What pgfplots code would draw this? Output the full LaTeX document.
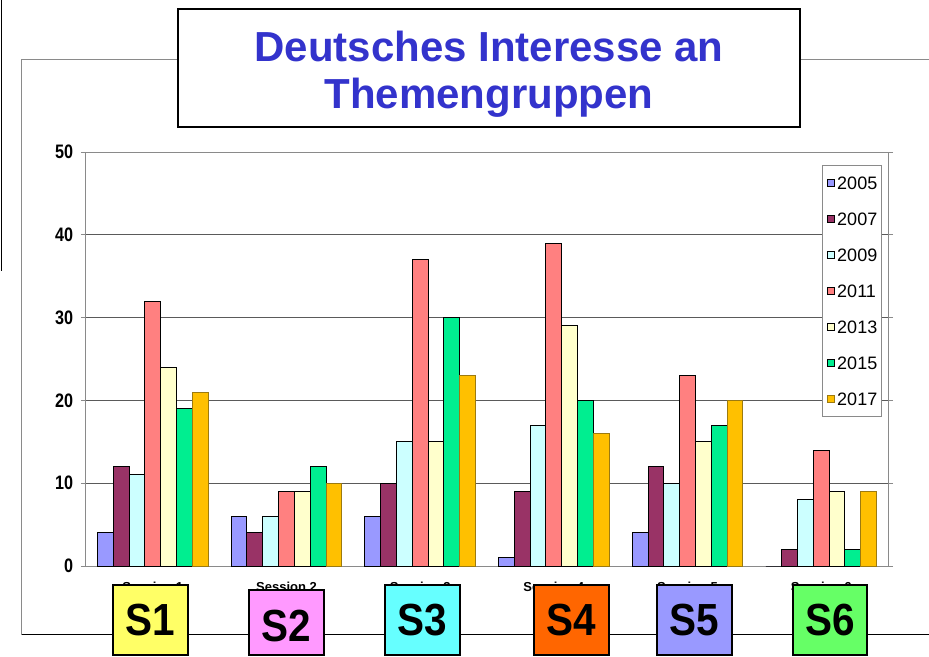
\documentclass[border=0pt]{standalone}
\usepackage{fontspec}
\setmainfont{Liberation Sans}
\usepackage{pgfplots}
\pgfplotsset{compat=1.18}
\usepackage{pgfplotstable}
\usetikzlibrary{calc}

\definecolor{c05}{HTML}{9999FF}
\definecolor{c07}{HTML}{993366}
\definecolor{c09}{HTML}{CCFFFF}
\definecolor{c11}{HTML}{FF8080}
\definecolor{c13}{HTML}{FFFFCC}
\definecolor{c15}{HTML}{00EE90}
\definecolor{c17}{HTML}{FFC000}
\definecolor{c17b}{HTML}{9C7A10}
\definecolor{titleblue}{HTML}{3333CC}
\definecolor{gridc}{HTML}{5A5A5A}
\definecolor{framegray}{HTML}{8A8A8A}
\definecolor{s1}{HTML}{FFFF66}
\definecolor{s2}{HTML}{FF99FF}
\definecolor{s3}{HTML}{66FFFF}
\definecolor{s4}{HTML}{FF6600}
\definecolor{s5}{HTML}{9999FF}
\definecolor{s6}{HTML}{66FF66}

\pgfplotstableread{
x y05 y07 y09 y11 y13 y15 y17
0 4 12 11 32 24 19 21
1 6 4 6 9 9 12 10
2 6 10 15 37 15 30 23
3 1 9 17 39 29 20 16
4 4 12 10 23 15 17 20
5 0 2 8 14 9 2 9
}\data

\begin{document}
\begin{tikzpicture}[x=1pt,y=1pt]
\begin{axis}[
  name=ax,
  scale only axis, width=802pt, height=414pt,
  xmin=-0.5, xmax=5.5, ymin=0, ymax=50,
  ybar=0pt, bar width=15.8pt,
  axis line style={framegray, line width=1pt},
  ymajorgrids, grid style={gridc, line width=0.9pt},
  ytick={0,10,20,30,40,50},
  yticklabels={0,10,20,30,40,50},
  yticklabel style={font=\bfseries\fontsize{19.5}{20}\selectfont, xscale=0.83, anchor=east, xshift=-6pt},
  xtick={0,1,2,3,4,5},
  xticklabels={Session 1,Session 2,Session 3,Session 4,Session 5,Session 6},
  xticklabel style={font=\bfseries\fontsize{13}{14}\selectfont, anchor=north, yshift=-8pt},
  x tick style={draw=none},
  extra x ticks={-0.5,0.5,1.5,2.5,3.5,4.5,5.5},
  extra x tick labels={},
  extra x tick style={grid=none, tick style={draw=framegray, line width=1pt}},
  tick align=outside, major tick length=5pt,
  y tick style={draw=framegray, line width=1pt},
  legend style={at={(0.918,0.969)}, anchor=north west,
    draw=framegray, line width=0.8pt, fill=white,
    font=\fontsize{18}{18}\selectfont,
    inner xsep=4pt, inner ysep=11pt,
    row sep=23pt,
    nodes={inner sep=0pt, text height=13pt, text depth=0pt},
    /tikz/every odd column/.append style={column sep=3pt}},
  legend cell align=left,
  legend image code/.code={\draw[#1,/tikz/.cd,line width=0.6pt] (0pt,-3.5pt) rectangle (7pt,3.5pt);},
]
\addplot[fill=c05, draw=black, line width=1pt] table[x=x,y=y05] {\data};
\addplot[fill=c07, draw=black, line width=1pt] table[x=x,y=y07] {\data};
\addplot[fill=c09, draw=black, line width=1pt] table[x=x,y=y09] {\data};
\addplot[fill=c11, draw=black, line width=1pt] table[x=x,y=y11] {\data};
\addplot[fill=c13, draw=black, line width=1pt] table[x=x,y=y13] {\data};
\addplot[fill=c15, draw=black, line width=1pt] table[x=x,y=y15] {\data};
\addplot[fill=c17, draw=c17b, line width=1pt] table[x=x,y=y17] {\data};
\legend{2005,2007,2009,2011,2013,2015,2017}
\coordinate (sw) at (rel axis cs:0,0);
\end{axis}

\begin{scope}[shift={($(sw)-(86,-566)$)}]
% outer frames
\draw[black,line width=1.5pt] (1.5,0) -- (1.5,-271);
\draw[framegray,line width=1pt] (22,-634.5) -- (22,-60) -- (180,-60);
\draw[framegray,line width=1pt] (798,-60) -- (929,-60);
\draw[black,line width=1.5pt] (22,-634.5) -- (929,-634.5);

% title box
\draw[black,line width=1.5pt,fill=white] (178,-9) rectangle (800,-127);
\node[anchor=base,font=\bfseries\fontsize{42}{47}\selectfont,text=titleblue,inner sep=0pt] at (489,-62) {Deutsches Interesse an};
\node[anchor=base,font=\bfseries\fontsize{42}{47}\selectfont,text=titleblue,inner sep=0pt] at (489,-109) {Themengruppen};

% session boxes
\foreach \xa/\xb/\ya/\col/\lab/\ty in {
  113/188/585/s1/S1/620,
  249/324/590/s2/S2/626,
  385/460/585/s3/S3/620,
  534/609/585/s4/S4/620,
  657/732/585/s5/S5/620,
  793/867/585/s6/S6/620}{
  \draw[black,line width=1.5pt,fill=\col] (\xa,-\ya) rectangle (\xb,-655);
  \node[font=\bfseries\fontsize{45}{45}\selectfont,xscale=0.9,inner sep=0pt] at ({(\xa+\xb)/2},-\ty) {\lab};
}
\end{scope}
\pgfresetboundingbox
\path[use as bounding box] ($(sw)+(-86,566)$) rectangle ($(sw)+(843,-90)$);
\end{tikzpicture}
\end{document}
